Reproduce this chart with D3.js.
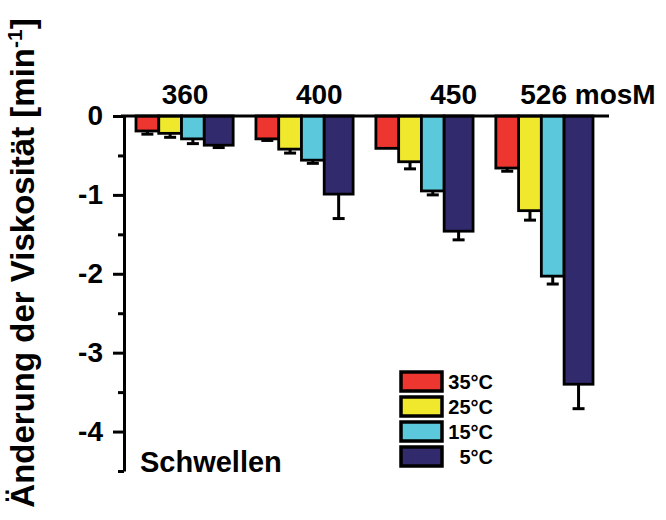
<!doctype html>
<html lang="de">
<head>
    <meta http-equiv="content-type" content="text/html; charset=utf-8" />
    <title>Viskosität</title>
    <style>
        body { margin: 0; background: #fff; }
        svg { display: block; font-family: "Liberation Sans", Arial, sans-serif; font-weight: bold; }
    </style>
</head>
<body>
    <svg id="chart"></svg>

    <script src="https://cdn.jsdelivr.net/npm/d3@7"></script>
    <script>
        // osmolarity groups (top labels) and temperature series
        const groups = ["360", "400", "450", "526 mosM"];
        const temps = ["35°C", "25°C", "15°C", "5°C"];
        const colors = ["#ee3630", "#efe82c", "#5bc8db", "#312b6e"];

        // change of viscosity per group, one array per temperature
        const v35 = [-0.19, -0.29, -0.41, -0.66];
        const v25 = [-0.22, -0.42, -0.58, -1.20];
        const v15 = [-0.29, -0.56, -0.95, -2.03];
        const v5  = [-0.37, -0.99, -1.46, -3.40];
        // error (downward only)
        const e35 = [0.04, 0.02, 0.00, 0.04];
        const e25 = [0.05, 0.05, 0.09, 0.12];
        const e15 = [0.06, 0.04, 0.05, 0.10];
        const e5  = [0.03, 0.31, 0.11, 0.31];

        const yTicks = [0, -1, -2, -3, -4];
        const yMinor = [-0.5, -1.5, -2.5, -3.5, -4.5];

        const values = [v35, v25, v15, v5];
        const errors = [e35, e25, e15, e5];
        const barWeight = [1, 1, 1, 1.27]; // the 5°C bars are drawn wider

        const width = 666, height = 520;
        const svg = d3.select("#chart").attr("width", width).attr("height", height);

        const y = d3.scaleLinear().domain([-4.5, 0]).range([471, 116]);
        const axisX = 124;

        const xGroup = d3.scaleBand().domain(groups).range([136, 593]).paddingInner(0.19).paddingOuter(0);
        const cum = [0];
        barWeight.forEach(w => cum.push(cum[cum.length - 1] + w));
        const xIn = d3.scaleLinear().domain([0, cum[cum.length - 1]]).range([0, xGroup.bandwidth()]);
        const xLabel = d3.scalePoint().domain(groups).range([185, 588]);

        // flatten rows
        const rows = [];
        groups.forEach((g, gi) => {
            temps.forEach((t, ti) => {
                rows.push({ g, ti, v: values[ti][gi], e: errors[ti][gi] });
            });
        });

        // error bars (behind bars)
        const eb = svg.append("g").attr("stroke", "#000").attr("stroke-width", 3);
        const capW = 12;
        rows.filter(d => d.e > 0).forEach(d => {
            const cx = xGroup(d.g) + (xIn(cum[d.ti]) + xIn(cum[d.ti + 1])) / 2;
            eb.append("line").attr("x1", cx).attr("x2", cx).attr("y1", y(d.v)).attr("y2", y(d.v - d.e));
            eb.append("line").attr("x1", cx - capW / 2).attr("x2", cx + capW / 2)
                .attr("y1", y(d.v - d.e)).attr("y2", y(d.v - d.e));
        });

        // bars
        svg.append("g")
            .attr("stroke", "#000")
            .attr("stroke-width", 2.8)
            .selectAll("rect")
            .data(rows)
            .join("rect")
            .attr("x", d => xGroup(d.g) + xIn(cum[d.ti]))
            .attr("width", d => xIn(cum[d.ti + 1]) - xIn(cum[d.ti]))
            .attr("y", y(0))
            .attr("height", d => y(d.v) - y(0))
            .attr("fill", d => colors[d.ti]);

        // zero line across the top
        svg.append("line")
            .attr("x1", axisX - 3).attr("x2", xGroup.range()[1] + 16)
            .attr("y1", y(0)).attr("y2", y(0))
            .attr("stroke", "#000").attr("stroke-width", 3.2);

        // y axis
        const yAxis = svg.append("g")
            .attr("transform", `translate(${axisX},0)`)
            .call(d3.axisLeft(y).tickValues(yTicks).tickSize(11).tickPadding(10).tickSizeOuter(0)
                .tickFormat(d => d === 0 ? "0" : "-" + Math.abs(d)));
        yAxis.select(".domain").attr("stroke-width", 3);
        yAxis.selectAll(".tick line").attr("stroke-width", 3);
        yAxis.selectAll(".tick text")
            .attr("font-family", "'Liberation Sans', Arial, sans-serif")
            .attr("font-weight", "bold")
            .attr("font-size", 28)
            .attr("fill", "#000");

        const yMin = svg.append("g")
            .attr("transform", `translate(${axisX},0)`)
            .call(d3.axisLeft(y).tickValues(yMinor).tickSize(6).tickFormat("").tickSizeOuter(0));
        yMin.select(".domain").remove();
        yMin.selectAll(".tick line").attr("stroke-width", 3);

        // group labels
        svg.append("g")
            .selectAll("text")
            .data(groups)
            .join("text")
            .attr("x", d => xLabel(d))
            .attr("y", 104)
            .attr("text-anchor", "middle")
            .attr("font-size", 28)
            .text(d => d);

        // y title
        const yt = svg.append("text")
            .attr("transform", "translate(34,263) rotate(-90)")
            .attr("text-anchor", "middle")
            .attr("font-size", 33);
        yt.append("tspan").text("Änderung der Viskosität [min");
        yt.append("tspan").attr("font-size", 21).attr("dy", -12).text("-1");
        yt.append("tspan").attr("dy", 12).text("]");

        // condition label
        svg.append("text")
            .attr("x", 140).attr("y", 472)
            .attr("font-size", 29)
            .text("Schwellen");

        // legend
        const legend = svg.append("g").attr("transform", "translate(401,372)");
        const li = legend.selectAll("g")
            .data(temps)
            .join("g")
            .attr("transform", (d, i) => `translate(0,${i * 25})`);
        li.append("rect")
            .attr("width", 41).attr("height", 19)
            .attr("fill", (d, i) => colors[i])
            .attr("stroke", "#000").attr("stroke-width", 3.5);
        li.append("text")
            .attr("x", 92).attr("y", 17)
            .attr("text-anchor", "end")
            .attr("font-size", 20)
            .text(d => d);
    </script>
</body>
</html>
